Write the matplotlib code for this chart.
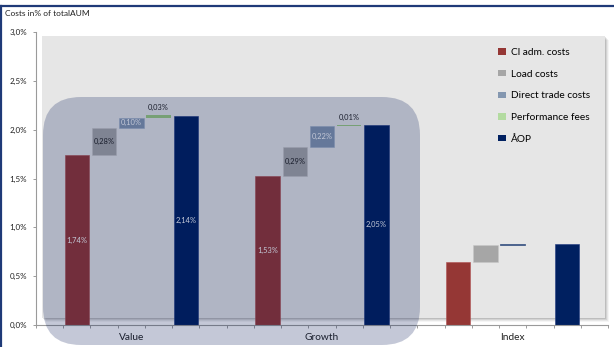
import matplotlib
matplotlib.use("Agg")
import matplotlib.pyplot as plt
from matplotlib.patches import Rectangle, FancyBboxPatch, Patch
from matplotlib.transforms import IdentityTransform
from matplotlib.lines import Line2D

plt.rcParams['font.family'] = ['Lato', 'DejaVu Sans']

# ---- data ---------------------------------------------------------------
groups = ["Value", "Growth", "Index"]
series = ["CI adm. costs", "Load costs", "Direct trade costs", "Performance fees", "ÅOP"]
legend_labels = ["Cl adm. costs", "Load costs", "Direct trade costs", "Performance fees", "ÅOP"]
ci_adm = [1.74, 1.53, 0.65]
load_costs = [0.28, 0.29, 0.17]
direct_trade = [0.10, 0.22, 0.01]
perf_fees = [0.03, 0.01, 0.00]
aop_total = [2.14, 2.05, 0.83]
show_labels = [True, True, False]
y_ticks = [0.0, 0.5, 1.0, 1.5, 2.0, 2.5, 3.0]

colors = {
    "ci": "#953735",
    "load": "#a6a6a6",
    "direct": "#8497b0",
    "perf": "#9bcb80",
    "aop": "#002060",
}

W, H = 614, 347
fig = plt.figure(figsize=(W / 100, H / 100), dpi=100)
fig.patch.set_facecolor("white")


def px(x0, y0, x1, y1):
    """Figure fraction box from pixel edges measured from the top-left."""
    return [x0 / W, 1 - y1 / H, (x1 - x0) / W, (y1 - y0) / H]


# plot-area background with a soft shadow
for i, a in enumerate([0.04, 0.06, 0.08, 0.10]):
    d = 4 - i
    fig.add_artist(Rectangle((42 + d, H - 318 - d), 563, 282, transform=IdentityTransform(),
                             facecolor="#000000", alpha=a, edgecolor="none", zorder=-3))
fig.add_artist(Rectangle((42, H - 318), 563, 282, transform=IdentityTransform(),
                         facecolor="#e6e6e6", edgecolor="none", zorder=-2))

# frame lines
fig.add_artist(Line2D([0, W], [H - 6, H - 6], transform=IdentityTransform(),
                      color="#1f3a78", lw=1.6, zorder=10))
fig.add_artist(Line2D([1, 1], [0, H - 6], transform=IdentityTransform(),
                      color="#1f3a78", lw=1.6, zorder=10))

ax = fig.add_axes(px(36, 32, 608, 325))
ax.set_facecolor("none")

slot_start = [0, 7, 14]
width = 0.9
for g in range(len(groups)):
    s = slot_start[g]
    c, l, d, p, t = ci_adm[g], load_costs[g], direct_trade[g], perf_fees[g], aop_total[g]
    ax.bar(s + 0.5, c, width, color=colors["ci"], edgecolor="#b05050", lw=0.4, zorder=2)
    ax.bar(s + 1.5, l, width, bottom=c, color=colors["load"], edgecolor="#c8c8c8", lw=0.4, zorder=2)
    ax.bar(s + 2.5, d, width, bottom=c + l, color=colors["direct"],
           edgecolor=("#a0b0c8" if d > 0.05 else colors["aop"]), lw=0.4, zorder=2)
    if p > 0:
        ax.bar(s + 3.5, p, width, bottom=c + l + d, color=colors["perf"], edgecolor="none", zorder=2)
    ax.bar(s + 4.5, t, width, color=colors["aop"], edgecolor="#203a80", lw=0.4, zorder=2)

    if show_labels[g]:
        fmt = lambda v: f"{v:.2f}%".replace(".", ",")
        kw = dict(ha="center", va="center", fontsize=5.4, zorder=3)
        ax.text(s + 0.5, c / 2, fmt(c), color="white", **kw)
        ax.text(s + 1.5, c + l / 2, fmt(l), color="#222222", **kw)
        ax.text(s + 2.5, c + l + d / 2, fmt(d), color="white", **kw)
        ax.text(s + 3.5, c + l + d + p + 0.04, fmt(p), color="#222222",
                ha="center", va="bottom", fontsize=5.4, zorder=3)
        ax.text(s + 4.5, t / 2, fmt(t), color="white", **kw)

ax.set_xlim(-1, 20)
ax.set_ylim(0, 3.0)
ax.set_yticks(y_ticks)
ax.set_yticklabels([f"{v:.1f}%".replace(".", ",") for v in y_ticks], fontsize=5.8, color="#222222")
ax.set_xticks(range(-1, 21))
ax.set_xticklabels([])
ax.set_xticks([s + 2.5 for s in slot_start], minor=True)
ax.set_xticklabels(groups, minor=True, fontsize=7.3, color="#222222")
ax.tick_params(axis="x", which="minor", length=0, pad=6)
ax.tick_params(axis="x", which="major", length=2.5, color="#9a9a9a", width=0.7)
ax.tick_params(axis="y", length=2.5, color="#9a9a9a", width=0.7, pad=4)
for side in ["top", "right"]:
    ax.spines[side].set_visible(False)
for side in ["left", "bottom"]:
    ax.spines[side].set_color("#9a9a9a")
    ax.spines[side].set_linewidth(0.8)

fig.text(5 / W, 1 - 13 / H, "Costs in% of totalAUM", fontsize=6, color="#222222",
         ha="left", va="center")

handles = [Patch(facecolor=colors[k], edgecolor="none") for k in ["ci", "load", "direct", "perf", "aop"]]
handles[3] = Patch(facecolor="#b3dba0", edgecolor="none")
fig.legend(handles, legend_labels, loc="upper left", bbox_to_anchor=(493 / W, 1 - 43 / H),
           frameon=False, fontsize=7.3, handlelength=0.75, handleheight=0.6,
           handletextpad=0.5, labelspacing=1.25, borderpad=0)

# translucent rounded highlight over the Value and Growth groups
fig.add_artist(FancyBboxPatch((43, H - 345), 377, 248, transform=IdentityTransform(),
                              boxstyle="round,pad=0,rounding_size=38",
                              facecolor=(0.0, 0.08, 0.33), alpha=0.23, edgecolor="none", zorder=5))

fig.savefig("out.png", dpi=100)
